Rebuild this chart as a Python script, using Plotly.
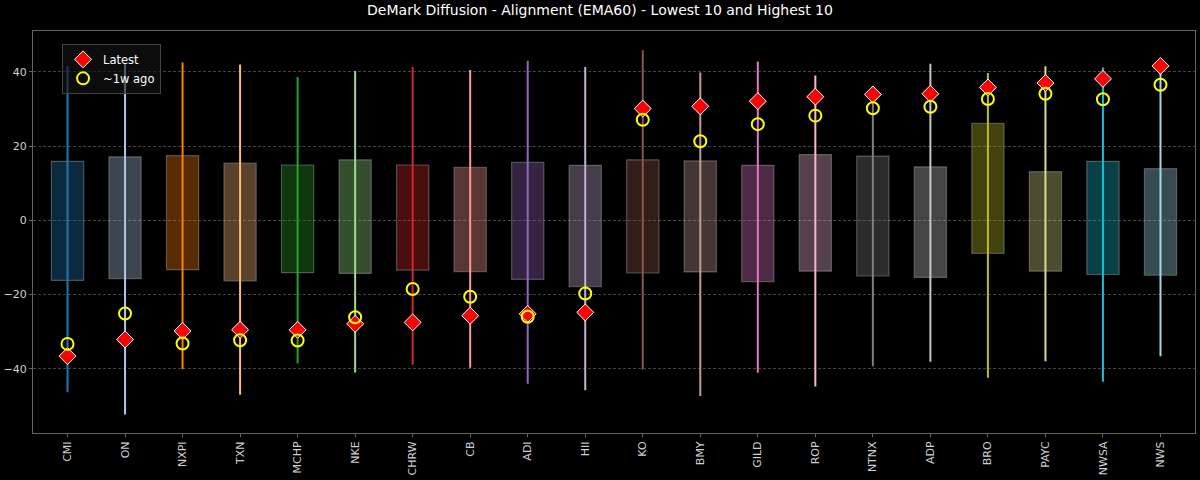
import plotly.graph_objects as go

# tickers, ordered lowest -> highest latest reading
tickers = ["CMI", "ON", "NXPI", "TXN", "MCHP", "NKE", "CHRW", "CB", "ADI", "HII",
           "KO", "BMY", "GILD", "ROP", "NTNX", "ADP", "BRO", "PAYC", "NWSA", "NWS"]

# whisker range (min / max)
rng_low = [-46.3, -52.3, -40.1, -47.0, -38.6, -41.0, -38.9, -39.7, -44.0, -45.8,
           -40.2, -47.3, -41.1, -44.8, -39.3, -38.1, -42.4, -38.0, -43.5, -36.6]
rng_high = [41.6, 42.2, 42.5, 42.0, 38.6, 40.2, 41.3, 40.5, 43.0, 41.3,
            45.8, 39.8, 42.8, 39.0, 36.1, 42.2, 39.7, 41.5, 41.2, 41.8]

# box (inner band)
box_low = [-16.2, -15.7, -13.3, -16.3, -14.1, -14.3, -13.4, -13.8, -15.9, -17.9,
           -14.2, -13.9, -16.5, -13.7, -15.0, -15.4, -8.9, -13.7, -14.6, -14.8]
box_high = [15.9, 17.1, 17.4, 15.4, 14.9, 16.3, 14.9, 14.3, 15.6, 14.8,
            16.3, 16.0, 14.8, 17.7, 17.3, 14.4, 26.1, 13.1, 15.9, 13.9]

latest = [-36.6, -32.1, -29.8, -29.5, -29.5, -27.9, -27.5, -25.7, -25.2, -24.8,
          30.1, 30.7, 32.1, 33.3, 33.9, 34.1, 35.8, 37.0, 38.1, 41.6]
week_ago = [-33.3, -25.1, -33.2, -32.3, -32.4, -26.1, -18.5, -20.6, -26.0, -19.7,
            27.1, 21.3, 25.9, 28.2, 30.2, 30.6, 32.7, 34.1, 32.6, 36.5]

# tab20
colors = ["#1f77b4", "#aec7e8", "#ff7f0e", "#ffbb78", "#2ca02c", "#98df8a",
          "#d62728", "#ff9896", "#9467bd", "#c5b0d5", "#8c564b", "#c49c94",
          "#e377c2", "#f7b6d2", "#7f7f7f", "#c7c7c7", "#bcbd22", "#dbdb8d",
          "#17becf", "#9edae5"]


def rgba(hexc, a):
    h = hexc.lstrip("#")
    return "rgba(%d,%d,%d,%.2f)" % (int(h[0:2], 16), int(h[2:4], 16), int(h[4:6], 16), a)


fig = go.Figure()

# boxes
fig.add_trace(go.Bar(
    x=tickers,
    y=[h - l for h, l in zip(box_high, box_low)],
    base=box_low,
    width=0.56,
    marker=dict(color=[rgba(c, 0.35) for c in colors],
                line=dict(color="rgba(200,200,200,0.35)", width=1.2)),
    showlegend=False, hoverinfo="skip",
))

# whiskers
for t, lo, hi, c in zip(tickers, rng_low, rng_high, colors):
    fig.add_trace(go.Scatter(x=[t, t], y=[lo, hi], mode="lines",
                             line=dict(color=c, width=2), showlegend=False))

fig.add_trace(go.Scatter(
    x=tickers, y=latest, mode="markers", name="Latest",
    marker=dict(symbol="diamond", color="red", size=13,
                line=dict(color="white", width=1)),
))
fig.add_trace(go.Scatter(
    x=tickers, y=week_ago, mode="markers", name="~1w ago",
    marker=dict(symbol="circle-open", color="yellow", size=12,
                line=dict(color="yellow", width=2)),
))

fig.update_layout(
    width=1200, height=480,
    paper_bgcolor="black", plot_bgcolor="black",
    font=dict(family="DejaVu Sans", color="#d0d0d0", size=12),
    title=dict(text="DeMark Diffusion - Alignment (EMA60) - Lowest 10 and Highest 10",
               x=0.5, xanchor="center", y=0.979, yanchor="middle",
               yref="container", font=dict(size=14, color="white")),
    margin=dict(l=33, r=5, t=31, b=47, autoexpand=False),
    barmode="overlay",
    legend=dict(x=0.025, y=0.968, xanchor="left", yanchor="top",
                bgcolor="rgba(20,20,20,0.6)", bordercolor="#444", borderwidth=1,
                font=dict(size=11.5, color="white"), tracegroupgap=0,
                itemwidth=30),
)
fig.update_xaxes(range=[-0.6, 19.6], tickangle=-90, showgrid=False,
                 automargin=False,
                 showline=True, linecolor="#666", mirror=True,
                 ticks="outside", ticklen=3, tickcolor="#666",
                 tickfont=dict(size=11, color="#d0d0d0"))
fig.update_yaxes(range=[-57.3, 51], tickvals=[-40, -20, 0, 20, 40],
                 automargin=False,
                 showgrid=True, gridcolor="#444", griddash="3px,2px", gridwidth=1,
                 zeroline=False, showline=True, linecolor="#666", mirror=True,
                 ticks="outside", ticklen=3, tickcolor="#666",
                 tickfont=dict(size=11, color="#d0d0d0"))

# page has a default body margin; drop it so the figure sits at 0,0
fig.write_html("out.html", config={"displayModeBar": False},
               post_script="document.body.style.margin='0';")
